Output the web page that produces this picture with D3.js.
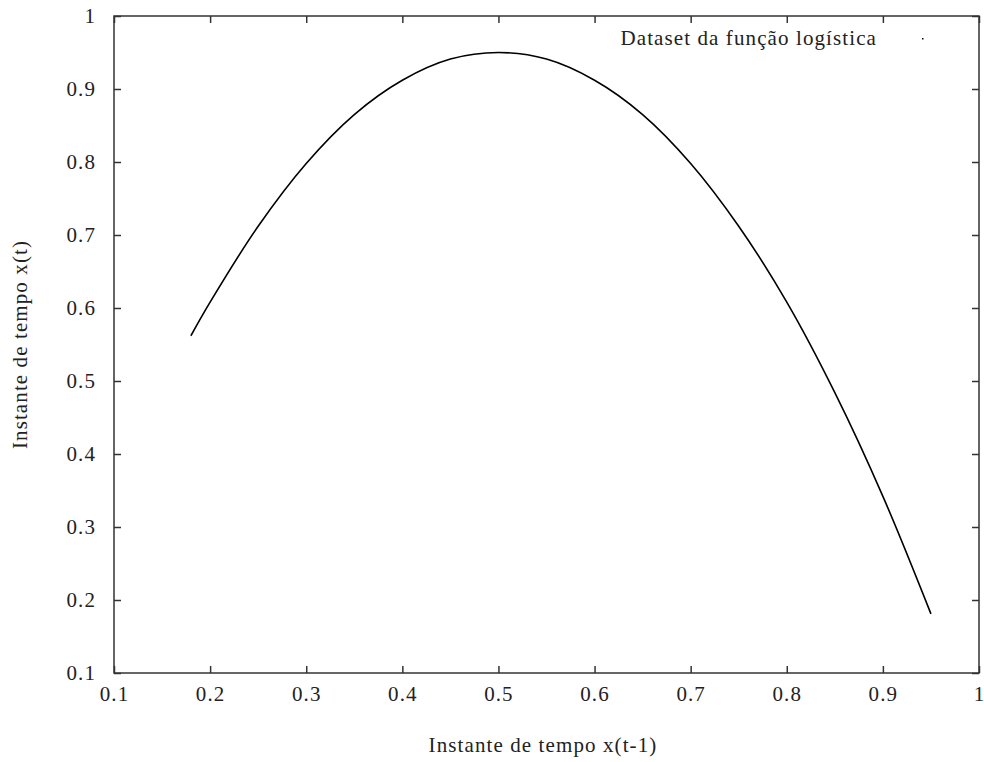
<!DOCTYPE html>
<html>
<head>
<meta charset="utf-8">
<script src="https://cdn.jsdelivr.net/npm/d3@7"></script>
<style>
  body { margin: 0; background: #fff; }
  text { font-family: "Liberation Serif", serif; font-size: 21px; letter-spacing: 1.1px; fill: #222; }
</style>
</head>
<body>
<svg id="chart" width="984" height="762"></svg>
<script>
"use strict";

// valores: x(t-1) e x(t)
const xPrev = [0.18, 0.2, 0.25, 0.3, 0.35, 0.4, 0.45, 0.5, 0.55, 0.6, 0.65, 0.7, 0.75, 0.8, 0.85, 0.9, 0.95];
const xNext = [0.562, 0.608, 0.712, 0.798, 0.865, 0.912, 0.941, 0.95, 0.941, 0.912, 0.865, 0.798, 0.712, 0.608, 0.484, 0.342, 0.181];
const tickVals = [0.1, 0.2, 0.3, 0.4, 0.5, 0.6, 0.7, 0.8, 0.9, 1];
const legendLabel = "Dataset da função logística";
const xTitle = "Instante de tempo x(t-1)";
const yTitle = "Instante de tempo x(t)";

const data = xPrev.map((x, i) => ({ x: x, y: xNext[i] }));

const svg = d3.select("#chart");
const plotL = 114, plotR = 979, plotT = 16, plotB = 673;

const xScale = d3.scaleLinear().domain([0.1, 1]).range([plotL, plotR]);
const yScale = d3.scaleLinear().domain([0.1, 1]).range([plotB, plotT]);

const fmt = d3.format("");

// eixos com marcas para dentro (estilo gnuplot)
const xAxis = d3.axisBottom(xScale).tickValues(tickVals).tickFormat(fmt).tickSize(-7).tickSizeOuter(0).tickPadding(21);
const yAxis = d3.axisLeft(yScale).tickValues(tickVals).tickFormat(fmt).tickSize(-7).tickSizeOuter(0).tickPadding(18);
const xTop = d3.axisTop(xScale).tickValues(tickVals).tickFormat("").tickSize(-7).tickSizeOuter(0);
const yRight = d3.axisRight(yScale).tickValues(tickVals).tickFormat("").tickSize(-7).tickSizeOuter(0);

svg.append("g").attr("transform", `translate(0,${plotB})`).call(xAxis);
svg.append("g").attr("transform", `translate(${plotL},0)`).call(yAxis);
svg.append("g").attr("transform", `translate(0,${plotT})`).call(xTop);
svg.append("g").attr("transform", `translate(${plotR},0)`).call(yRight);

svg.selectAll(".domain").remove();
svg.selectAll(".tick line").attr("stroke", "#333").attr("stroke-width", 1.5);
svg.selectAll(".tick text").attr("fill", "#222").style("font-family", "Liberation Serif").style("font-size", "21px");
svg.selectAll(".tick text").attr("dy", "0.32em");

// moldura
svg.append("rect")
  .attr("x", plotL).attr("y", plotT)
  .attr("width", plotR - plotL).attr("height", plotB - plotT)
  .attr("fill", "none").attr("stroke", "#333").attr("stroke-width", 1.5);

// curva dos pontos
const line = d3.line()
  .x(d => xScale(d.x))
  .y(d => yScale(d.y))
  .curve(d3.curveCatmullRom);

svg.append("path")
  .attr("d", line(data))
  .attr("fill", "none")
  .attr("stroke", "#000")
  .attr("stroke-width", 1.6);

// legenda
svg.append("text")
  .attr("x", 877).attr("y", 45)
  .attr("text-anchor", "end")
  .text(legendLabel);
svg.append("rect")
  .attr("x", 922).attr("y", 38)
  .attr("width", 1.5).attr("height", 1.5)
  .attr("fill", "#000");

// títulos dos eixos
svg.append("text")
  .attr("x", 543).attr("y", 752)
  .attr("text-anchor", "middle")
  .text(xTitle);

svg.append("text")
  .attr("transform", `translate(27,${(plotT + plotB) / 2}) rotate(-90)`)
  .attr("text-anchor", "middle")
  .text(yTitle);
</script>
</body>
</html>
